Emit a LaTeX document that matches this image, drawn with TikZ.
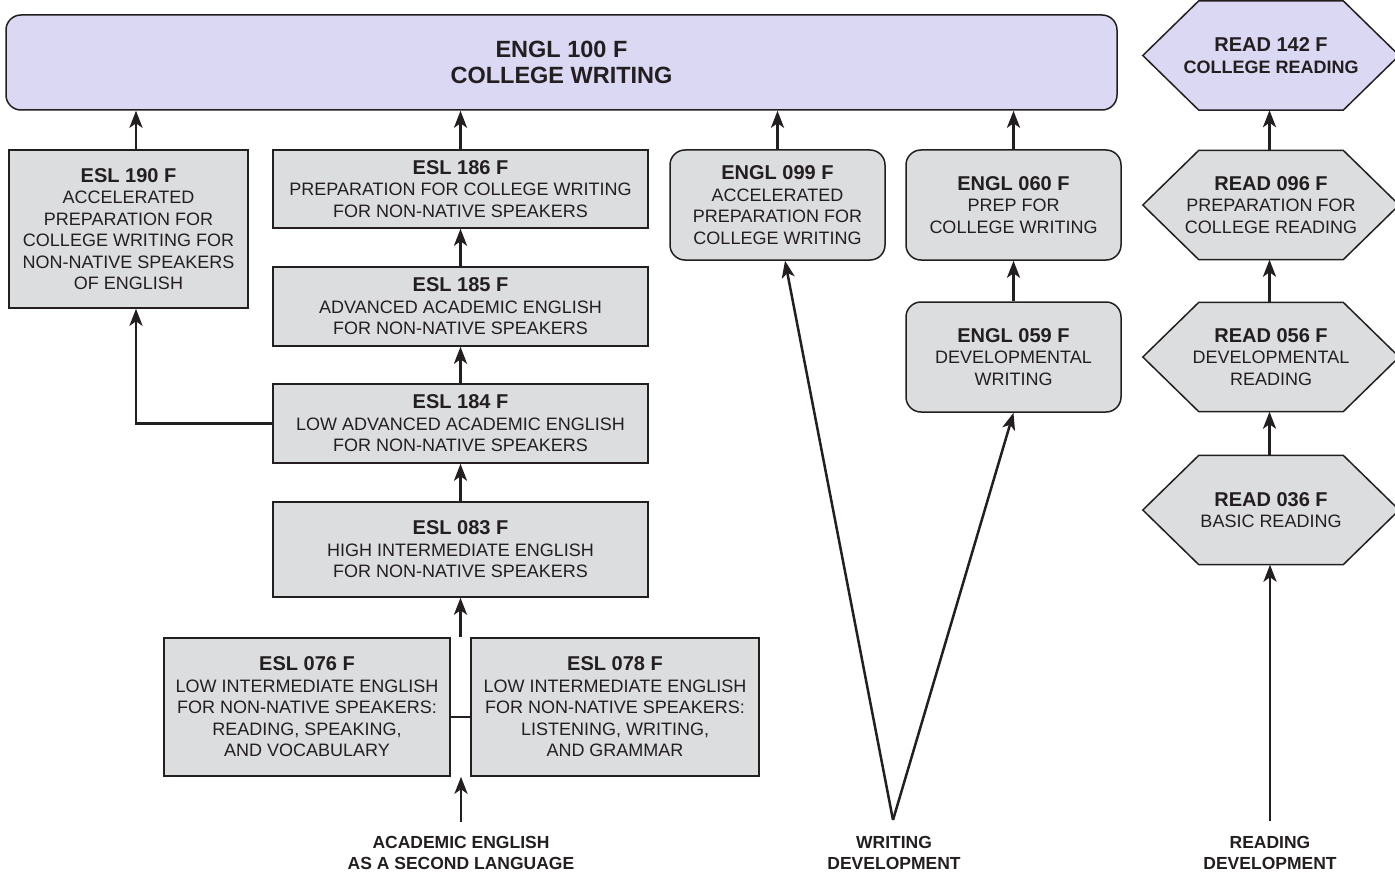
\documentclass[tikz,border=0pt]{standalone}
\usepackage{fontspec}
\setmainfont{Liberation Sans}
\usetikzlibrary{arrows.meta,backgrounds,calc}
\definecolor{boxgray}{HTML}{DCDDDF}
\definecolor{lav}{HTML}{DAD8F3}
\definecolor{ink}{HTML}{231F20}
\newcommand\crs[1]{{\fontsize{20}{22}\selectfont\bfseries #1}}
\begin{document}
\begin{tikzpicture}[x=1pt,y=-1pt,
  box/.style={draw=ink, line width=1.5pt, fill=boxgray, rectangle, inner sep=0pt, align=center, text=ink, font=\fontsize{18}{21.5}\selectfont},
  rbox/.style={box, rounded corners=15pt},
  hexn/.style={rectangle, inner sep=0pt, align=center, text=ink, minimum width=256pt, minimum height=109pt, font=\fontsize{18}{21.5}\selectfont},
  arr/.style={draw=ink, line width=2.9pt, -{Stealth[length=17pt,width=13pt,inset=4.5pt]}},
  ln/.style={draw=ink, line width=2.9pt},
  lbl/.style={align=center, text=ink, font=\fontsize{17.5}{20.5}\selectfont\bfseries},
  ]
\useasboundingbox (0,0) rectangle (1395,872);

% top bar
\node[rbox, fill=lav, minimum width=1111pt, minimum height=95pt, text depth=0pt, font=\fontsize{23.5}{26.5}\selectfont\bfseries] (top) at (561.5,62.5) {\rule{0pt}{5pt}ENGL 100 F\\COLLEGE WRITING};

% ESL column
\node[box, minimum width=239pt, minimum height=158pt] (e190) at (128.5,229) {\crs{ESL 190 F}\\ACCELERATED\\PREPARATION FOR\\COLLEGE WRITING FOR\\NON-NATIVE SPEAKERS\\OF ENGLISH};
\node[box, minimum width=375pt, minimum height=78pt] (e186) at (460.5,189) {\crs{ESL 186 F}\\PREPARATION FOR COLLEGE WRITING\\FOR NON-NATIVE SPEAKERS};
\node[box, minimum width=375pt, minimum height=79pt] (e185) at (460.5,306.5) {\crs{ESL 185 F}\\ADVANCED ACADEMIC ENGLISH\\FOR NON-NATIVE SPEAKERS};
\node[box, minimum width=375pt, minimum height=79pt] (e184) at (460.5,423.5) {\crs{ESL 184 F}\\LOW ADVANCED ACADEMIC ENGLISH\\FOR NON-NATIVE SPEAKERS};
\node[box, minimum width=375pt, minimum height=95pt] (e083) at (460.5,549.5) {\crs{ESL 083 F}\\HIGH INTERMEDIATE ENGLISH\\FOR NON-NATIVE SPEAKERS};
\node[box, minimum width=286pt, minimum height=138pt] (e076) at (307,707) {\crs{ESL 076 F}\\LOW INTERMEDIATE ENGLISH\\FOR NON-NATIVE SPEAKERS:\\READING, SPEAKING,\\AND VOCABULARY};
\node[box, minimum width=288pt, minimum height=138pt] (e078) at (615,707) {\crs{ESL 078 F}\\LOW INTERMEDIATE ENGLISH\\FOR NON-NATIVE SPEAKERS:\\LISTENING, WRITING,\\AND GRAMMAR};

% ENGL column
\node[rbox, minimum width=215pt, minimum height=110pt] (e099) at (777.5,205) {\crs{ENGL 099 F}\\ACCELERATED\\PREPARATION FOR\\COLLEGE WRITING};
\node[rbox, minimum width=215pt, minimum height=110pt] (e060) at (1013.5,205) {\crs{ENGL 060 F}\\PREP FOR\\COLLEGE WRITING};
\node[rbox, minimum width=215pt, minimum height=110pt] (e059) at (1013.5,357) {\crs{ENGL 059 F}\\DEVELOPMENTAL\\WRITING};

% READ column
\node[hexn] (r142) at (1271,55.5) {\crs{READ 142 F}\\\textbf{COLLEGE READING}};
\node[hexn] (r096) at (1271,205) {\crs{READ 096 F}\\PREPARATION FOR\\COLLEGE READING};
\node[hexn] (r056) at (1271,357) {\crs{READ 056 F}\\DEVELOPMENTAL\\READING};
\node[hexn] (r036) at (1271,510) {\crs{READ 036 F}\\BASIC READING};

\begin{scope}[on background layer]
\foreach \n/\c in {r142/lav, r096/boxgray, r056/boxgray, r036/boxgray}
  \draw[draw=ink, line width=1.5pt, fill=\c] (\n.west) -- ([xshift=56pt]\n.north west) -- ([xshift=-56pt]\n.north east) -- (\n.east) -- ([xshift=-56pt]\n.south east) -- ([xshift=56pt]\n.south west) -- cycle;
\end{scope}

% bottom labels
\node[lbl] (la) at (461,853) {ACADEMIC ENGLISH\\AS A SECOND LANGUAGE};
\node[lbl] (lw) at (894,853) {WRITING\\DEVELOPMENT};
\node[lbl] (lr) at (1270,853) {READING\\DEVELOPMENT};

\coordinate (ae) at (461,822);
\coordinate (wd) at (893,820);
\coordinate (rd) at (1270,821);
\coordinate (j) at ($(e076.east)!0.5!(e078.west)$);

% ESL arrows
\draw[arr] ([xshift=7.5pt]e190.north) -- ([xshift=7.5pt]e190.north |- top.south);
\draw[arr] (e186.north) -- (e186.north |- top.south);
\draw[arr] (e185.north) -- (e186.south);
\draw[arr] (e184.north) -- (e185.south);
\draw[arr] (e083.north) -- (e184.south);
\draw[arr] (e184.west) -| ([xshift=7.5pt]e190.south);
\draw[arr] (j |- e076.north) -- (j |- e083.south);
\draw[ln] ([yshift=-10pt]e076.east) -- ([yshift=-10pt]e078.west);
\draw[arr] (ae) -- (ae |- e076.south);

% ENGL arrows
\draw[arr] (e099.north) -- (e099.north |- top.south);
\draw[arr] (e060.north) -- (e060.north |- top.south);
\draw[arr] (e059.north) -- (e060.south);
\draw[arr, line width=2.5pt] (wd) -- ([xshift=7.5pt]e099.south);
\draw[arr, line width=2.5pt] (wd) -- (e059.south);

% READ arrows
\draw[arr] ([xshift=-1.5pt]r096.north) -- ([xshift=-1.5pt]r142.south);
\draw[arr] ([xshift=-1.5pt]r056.north) -- ([xshift=-1.5pt]r096.south);
\draw[arr] ([xshift=-1.5pt]r036.north) -- ([xshift=-1.5pt]r056.south);
\draw[arr] (rd) -- (rd |- r036.south);
\end{tikzpicture}
\end{document}
